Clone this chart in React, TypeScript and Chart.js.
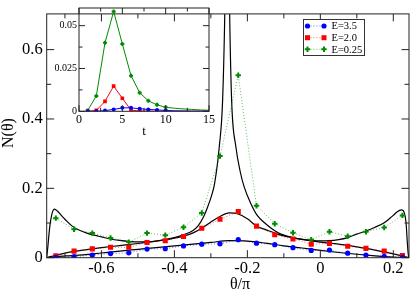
import React, { useEffect, useRef } from 'react';
import { Chart, registerables } from 'chart.js';
Chart.register(...registerables);

const FONT = "'Liberation Serif', 'Times New Roman', serif";
const BLUE = '#0000ff';
const RED = '#ff0000';
const GREEN = '#008c00';

// ---------- main plot data ----------
const thetaBins = [-0.725, -0.675, -0.625, -0.575, -0.525, -0.475, -0.425, -0.375, -0.325, -0.275,
  -0.225, -0.175, -0.125, -0.075, -0.025, 0.025, 0.075, 0.125, 0.175, 0.225];
const nE35 = [0.001, 0.003, 0.0075, 0.012, 0.014, 0.025, 0.026, 0.034, 0.039, 0.040,
  0.052, 0.042, 0.0375, 0.029, 0.021, 0.022, 0.013, 0.0078, 0.004, 0.001];
const nE20 = [0.0055, 0.019, 0.0255, 0.030, 0.030, 0.044, 0.049, 0.061, 0.085, 0.111,
  0.133, 0.091, 0.066, 0.054, 0.039, 0.041, 0.033, 0.027, 0.019, 0.006];
const nE025 = [0.114, 0.082, 0.071, 0.057, 0.045, 0.071, 0.065, 0.088, 0.129, 0.293,
  0.526, 0.150, 0.098, 0.072, 0.052, 0.075, 0.062, 0.075, 0.087, 0.122];

const thetaTheory35 = [-0.75, -0.74, -0.725, -0.7, -0.65, -0.6, -0.55, -0.5, -0.45, -0.4, -0.35, -0.3,
  -0.25, -0.2, -0.15, -0.1, -0.05, 0, 0.05, 0.1, 0.15, 0.2, 0.225, 0.243];
const theoryE35 = [0, 0.001, 0.003, 0.005, 0.008, 0.0135, 0.019, 0.024, 0.029, 0.034, 0.039, 0.044,
  0.049, 0.048, 0.042, 0.034, 0.028, 0.021, 0.015, 0.010, 0.0055, 0.002, 0.0008, 0];

const thetaTheory20 = [-0.75, -0.74, -0.725, -0.7, -0.675, -0.65, -0.6, -0.55, -0.5, -0.45, -0.4, -0.375,
  -0.35, -0.325, -0.3, -0.275, -0.25, -0.225, -0.2, -0.175, -0.15, -0.125, -0.1, -0.05, 0, 0.05, 0.1,
  0.15, 0.2, 0.225, 0.243];
const theoryE20 = [0, 0.003, 0.007, 0.013, 0.018, 0.022, 0.029, 0.035, 0.041, 0.048, 0.056, 0.062,
  0.071, 0.085, 0.103, 0.119, 0.129, 0.126, 0.112, 0.091, 0.081, 0.071, 0.063, 0.053, 0.045, 0.039, 0.031,
  0.022, 0.011, 0.005, 0];

const thetaTheory025 = [-0.75, -0.747, -0.744, -0.741, -0.737, -0.733, -0.729, -0.72, -0.71, -0.7, -0.68,
  -0.66, -0.64, -0.62, -0.6, -0.575, -0.55, -0.525, -0.5, -0.475, -0.45, -0.425, -0.4, -0.375, -0.35,
  -0.335, -0.32, -0.308, -0.299, -0.29, -0.277, -0.268, -0.262, -0.258, -0.255, -0.252, -0.2485, -0.243,
  -0.2315, -0.22, -0.209, -0.19, -0.173, -0.15, -0.125, -0.1, -0.075, -0.05, -0.025, 0, 0.025, 0.05,
  0.075, 0.1, 0.125, 0.15, 0.175, 0.19, 0.2, 0.21, 0.2224, 0.23, 0.235, 0.238, 0.241, 0.243];
const theoryE025 = [0, 0.03, 0.065, 0.094, 0.12, 0.135, 0.14, 0.134, 0.122, 0.111, 0.091,
  0.079, 0.071, 0.065, 0.06, 0.054, 0.05, 0.047, 0.0455, 0.046, 0.048, 0.052, 0.058, 0.066, 0.078,
  0.092, 0.118, 0.149, 0.176, 0.213, 0.32, 0.45, 0.7, 1.0, 1.6, 1.0, 0.7, 0.45,
  0.32, 0.25, 0.205, 0.155, 0.122, 0.098, 0.078, 0.065, 0.058, 0.053, 0.05, 0.0485, 0.049, 0.052,
  0.058, 0.068, 0.077, 0.088, 0.101, 0.113, 0.122, 0.132, 0.138, 0.13, 0.10, 0.05, 0.01, 0];

const xTickValues = [-0.6, -0.4, -0.2, 0, 0.2];
const xTickLabels = ['-0.6', '-0.4', '-0.2', '0', '0.2'];
const xMinorTicks = [-0.7, -0.5, -0.3, -0.1, 0.1];
const yTickValues = [0, 0.2, 0.4, 0.6];
const yTickLabels = ['0', '0.2', '0.4', '0.6'];
const yMinorTicks = [0.1, 0.3, 0.5];
const legendLabels = ['E=3.5', 'E=2.0', 'E=0.25'];

// ---------- inset data ----------
const tValues = [1, 2, 3, 4, 5, 6, 7, 8, 9, 10, 11, 12, 13, 14, 15];
const insetE35 = [0, 0, 0.0004, 0.0011, 0.002, 0.002, 0.0015, 0.0011, 0.0008, 0.0005, 0.0003, 0.0002, 0.0001, 0.0001, 0];
const insetE20 = [0, 0.0005, 0.0058, 0.0147, 0.0076, 0.0007, 0.0002, 0.0001, 0, 0, 0, 0, 0, 0, 0];
const insetE025 = [0.0005, 0.009, 0.040, 0.0583, 0.0393, 0.0208, 0.0109, 0.0061, 0.0038, 0.0023, 0.0018, 0.0014, 0.0011, 0.0008, 0.0006];
const tTickValues = [0, 5, 10, 15];
const tTickLabels = ['0', '5', '10', '15'];
const tMinorTicks = [2.5, 7.5, 12.5];
const insetYTickValues = [0, 0.025, 0.05];
const insetYTickLabels = ['0', '0.025', '0.05'];
const insetYMinorTicks = [0.0125, 0.0375];

const toXY = (xs: number[], ys: number[]) => xs.map((x, i) => ({ x, y: ys[i] }));

function framePlugin(xMajor: number[], xMinor: number[], yMajor: number[], yMinor: number[], majorLen: number, minorLen: number) {
  return {
    id: 'frameTicks',
    afterDatasetsDraw(chart: any) {
      const { ctx, chartArea: a } = chart;
      const xs = chart.scales.x;
      const ys = chart.scales.y;
      ctx.save();
      ctx.strokeStyle = '#222';
      ctx.lineWidth = 1;
      ctx.beginPath();
      const vt = (v: number, len: number) => {
        const p = xs.getPixelForValue(v);
        ctx.moveTo(p, a.bottom); ctx.lineTo(p, a.bottom - len);
        ctx.moveTo(p, a.top); ctx.lineTo(p, a.top + len);
      };
      const ht = (v: number, len: number) => {
        const p = ys.getPixelForValue(v);
        ctx.moveTo(a.left, p); ctx.lineTo(a.left + len, p);
        ctx.moveTo(a.right, p); ctx.lineTo(a.right - len, p);
      };
      xMajor.forEach((v) => vt(v, majorLen));
      xMinor.forEach((v) => vt(v, minorLen));
      yMajor.forEach((v) => ht(v, majorLen));
      yMinor.forEach((v) => ht(v, minorLen));
      ctx.stroke();
      ctx.strokeRect(a.left, a.top, a.right - a.left, a.bottom - a.top);
      ctx.restore();
    },
  };
}

function drawMarker(ctx: CanvasRenderingContext2D, kind: string, x: number, y: number, color: string) {
  ctx.fillStyle = color;
  ctx.strokeStyle = color;
  if (kind === 'circle') {
    ctx.beginPath(); ctx.arc(x, y, 2.6, 0, Math.PI * 2); ctx.fill();
  } else if (kind === 'rect') {
    ctx.fillRect(x - 2.5, y - 2.5, 5, 5);
  } else {
    ctx.lineWidth = 2;
    ctx.beginPath();
    ctx.moveTo(x - 2.7, y); ctx.lineTo(x + 2.7, y);
    ctx.moveTo(x, y - 2.7); ctx.lineTo(x, y + 2.7);
    ctx.stroke();
  }
}

const mainExtras = {
  id: 'mainExtras',
  afterDraw(chart: any) {
    const ctx: CanvasRenderingContext2D = chart.ctx;
    ctx.save();
    // axis titles
    ctx.fillStyle = '#000';
    ctx.font = `16px ${FONT}`;
    ctx.textAlign = 'center';
    ctx.textBaseline = 'middle';
    ctx.fillText('θ/π', 240, 284.5);
    ctx.save();
    ctx.translate(9, 133);
    ctx.rotate(-Math.PI / 2);
    ctx.fillText('N(θ)', 0, 0);
    ctx.restore();
    // legend
    const colors = [BLUE, RED, GREEN];
    const kinds = ['circle', 'rect', 'cross'];
    const rows = [26, 37.7, 49.3];
    ctx.fillStyle = '#fff';
    ctx.fillRect(303.5, 19.5, 61, 36);
    ctx.strokeStyle = '#333';
    ctx.lineWidth = 1;
    ctx.strokeRect(303.5, 19.5, 61, 36);
    legendLabels.forEach((lab, i) => {
      const y = rows[i];
      ctx.save();
      ctx.strokeStyle = colors[i];
      ctx.globalAlpha = 0.6;
      ctx.lineWidth = 1;
      ctx.setLineDash([1, 2]);
      ctx.beginPath(); ctx.moveTo(307.5, y); ctx.lineTo(324, y); ctx.stroke();
      ctx.restore();
      drawMarker(ctx, kinds[i], 307.5, y, colors[i]);
      drawMarker(ctx, kinds[i], 324, y, colors[i]);
      ctx.fillStyle = '#000';
      ctx.font = `10.5px ${FONT}`;
      ctx.textAlign = 'left';
      ctx.textBaseline = 'middle';
      ctx.fillText(lab, 331.5, y + 0.5);
    });
    ctx.restore();
  },
};

const insetExtras = {
  id: 'insetExtras',
  afterDraw(chart: any) {
    const ctx: CanvasRenderingContext2D = chart.ctx;
    const a = chart.chartArea;
    ctx.save();
    ctx.fillStyle = '#000';
    ctx.font = `13px ${FONT}`;
    ctx.textAlign = 'center';
    ctx.textBaseline = 'middle';
    ctx.fillText('t', (a.left + a.right) / 2, 132);
    ctx.restore();
  },
};

function dataSet(label: string, xs: number[], ys: number[], color: string, lineColor: string, style: string, dotted: boolean, radius: any, order: number) {
  return {
    label,
    data: toXY(xs, ys),
    showLine: true,
    borderColor: lineColor,
    borderWidth: 1,
    borderDash: dotted ? [1, 2] : [],
    pointStyle: style,
    pointRadius: radius,
    pointBackgroundColor: color,
    pointBorderColor: color,
    pointBorderWidth: style === 'cross' ? 2 : 0,
    order,
  };
}

function theorySet(xs: number[], ys: number[]) {
  return {
    label: 'theory',
    data: toXY(xs, ys),
    showLine: true,
    borderColor: '#000',
    borderWidth: 1.2,
    pointRadius: 0,
    cubicInterpolationMode: 'monotone',
    order: 5,
  };
}

export default function App() {
  const mainRef = useRef<HTMLCanvasElement>(null);
  const insetRef = useRef<HTMLCanvasElement>(null);

  useEffect(() => {
    const main = new Chart(mainRef.current as HTMLCanvasElement, {
      type: 'scatter',
      data: {
        datasets: [
          theorySet(thetaTheory35, theoryE35),
          theorySet(thetaTheory20, theoryE20),
          theorySet(thetaTheory025, theoryE025),
          dataSet('E=3.5', thetaBins, nE35, BLUE, 'rgba(0,0,255,0.6)', 'circle', true, 2.6, 1),
          dataSet('E=2.0', thetaBins, nE20, RED, 'rgba(255,0,0,0.6)', 'rect', true, 3.6, 2),
          dataSet('E=0.25', thetaBins, nE025, GREEN, 'rgba(0,140,0,0.6)', 'cross', true, 2.7, 3),
        ] as any,
      },
      options: {
        responsive: false,
        animation: false,
        layout: { padding: { left: 0, right: 1.7, top: 0.5, bottom: 0 } },
        plugins: { legend: { display: false }, tooltip: { enabled: false } },
        scales: {
          x: {
            type: 'linear',
            min: -0.75,
            max: 0.243,
            grid: { display: false, drawTicks: false },
            border: { display: false },
            ticks: {
              autoSkip: false,
              maxRotation: 0,
              padding: 1.5,
              color: '#000',
              font: { family: FONT, size: 16.5 },
              callback: (_v: any, i: number) => xTickLabels[i],
            },
            afterBuildTicks: (s: any) => { s.ticks = xTickValues.map((v) => ({ value: v })); },
            afterFit: (s: any) => { s.height = 34.3; },
          },
          y: {
            type: 'linear',
            min: 0,
            max: 0.703,
            grid: { display: false, drawTicks: false },
            border: { display: false },
            ticks: {
              autoSkip: false,
              padding: 4,
              color: '#000',
              font: { family: FONT, size: 16.5 },
              callback: (_v: any, i: number) => yTickLabels[i],
            },
            afterBuildTicks: (s: any) => { s.ticks = yTickValues.map((v) => ({ value: v })); },
            afterFit: (s: any) => { s.width = 46.7; },
          },
        },
      } as any,
      plugins: [framePlugin(xTickValues, xMinorTicks, yTickValues, yMinorTicks, 7.5, 4.5), mainExtras],
    });

    const inset = new Chart(insetRef.current as HTMLCanvasElement, {
      type: 'scatter',
      data: {
        datasets: [
          dataSet('E=3.5', tValues, insetE35, BLUE, BLUE, 'circle', false, tValues.map((t) => (t <= 10 ? 2 : 0)), 1),
          dataSet('E=2.0', tValues, insetE20, RED, RED, 'rect', false, tValues.map((t) => (t <= 10 ? 2.6 : 0)), 2),
          dataSet('E=0.25', tValues, insetE025, GREEN, GREEN, 'cross', false, tValues.map((t) => (t <= 10 ? 2 : 0)), 3),
        ] as any,
      },
      options: {
        responsive: false,
        animation: false,
        layout: { padding: { left: 0, right: 4.3, top: 0.5, bottom: 0 } },
        plugins: { legend: { display: false }, tooltip: { enabled: false } },
        scales: {
          x: {
            type: 'linear',
            min: 0,
            max: 15,
            grid: { display: false, drawTicks: false },
            border: { display: false },
            ticks: {
              autoSkip: false,
              maxRotation: 0,
              padding: 1,
              color: '#000',
              font: { family: FONT, size: 12 },
              callback: (_v: any, i: number) => tTickLabels[i],
            },
            afterBuildTicks: (s: any) => { s.ticks = tTickValues.map((v) => ({ value: v })); },
            afterFit: (s: any) => { s.height = 28.7; },
          },
          y: {
            type: 'linear',
            min: 0,
            max: 0.0603,
            grid: { display: false, drawTicks: false },
            border: { display: false },
            ticks: {
              autoSkip: false,
              padding: 2,
              color: '#000',
              font: { family: FONT, size: 10 },
              callback: (_v: any, i: number) => insetYTickLabels[i],
            },
            afterBuildTicks: (s: any) => { s.ticks = insetYTickValues.map((v) => ({ value: v })); },
            afterFit: (s: any) => { s.width = 29; },
          },
        },
      } as any,
      plugins: [framePlugin(tTickValues, tMinorTicks, insetYTickValues, insetYMinorTicks, 6, 3.5), insetExtras],
    });

    return () => {
      main.destroy();
      inset.destroy();
    };
  }, []);

  return (
    <div style={{ position: 'absolute', left: 0, top: 0, width: 415, height: 292, background: '#fff' }}>
      <canvas ref={mainRef} width={415} height={292} style={{ position: 'absolute', left: 0, top: 0 }} />
      <canvas ref={insetRef} width={166} height={140} style={{ position: 'absolute', left: 50, top: 0 }} />
    </div>
  );
}
